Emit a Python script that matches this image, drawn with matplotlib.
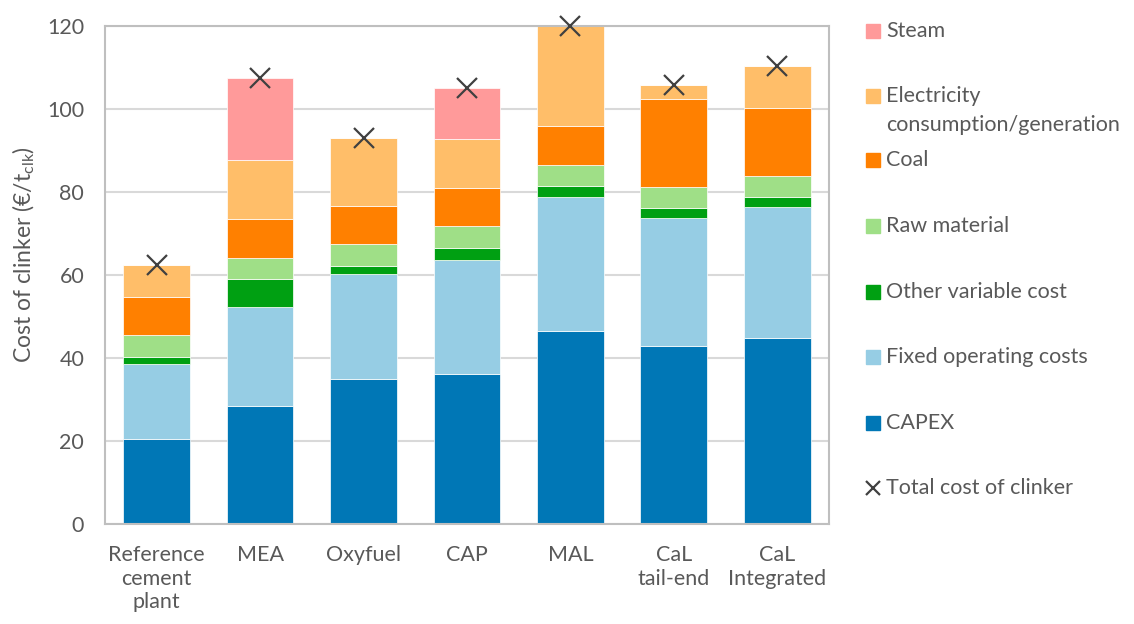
import numpy as np
import matplotlib
matplotlib.use("Agg")
from matplotlib import pyplot as plt
from matplotlib.patches import Rectangle
from matplotlib.lines import Line2D

plt.rcParams['font.family'] = ['Lato', 'DejaVu Sans']
plt.rcParams['mathtext.default'] = 'regular'

# categorias
categories = ["Reference\ncement\nplant", "MEA", "Oxyfuel", "CAP", "MAL",
              "CaL\ntail-end", "CaL\nIntegrated"]

# componentes de custo (EUR/t clk)
capex = [20.5, 28.6, 34.9, 36.3, 46.6, 43.0, 44.8]
fixed_om = [18.2, 23.6, 25.3, 27.3, 32.2, 30.6, 31.6]
other_var = [1.7, 6.8, 2.0, 3.0, 2.7, 2.5, 2.4]
raw_material = [5.1, 5.1, 5.2, 5.2, 5.0, 5.1, 5.1]
coal = [9.3, 9.3, 9.3, 9.2, 9.3, 21.2, 16.2]
electricity = [7.7, 14.3, 16.3, 11.8, 24.2, 3.4, 10.2]
steam = [0.0, 19.6, 0.0, 12.1, 0.0, 0.0, 0.0]
total = [62.5, 107.3, 93.0, 104.9, 120.0, 105.8, 110.3]

series_names = ["CAPEX", "Fixed operating costs", "Other variable cost",
                "Raw material", "Coal", "Electricity\nconsumption/generation",
                "Steam"]
series_vals = [capex, fixed_om, other_var, raw_material, coal, electricity, steam]
colors = ['#0077b6', '#96cde4', '#00a012', '#9fdf87', '#ff8000', '#ffbe69',
          '#ff9a9a']

txt_color = '#595959'
fs = 15.5

fig = plt.figure(figsize=(11.34, 6.24), dpi=100)
ax = fig.add_axes([0.0926, 0.1595, 0.6384, 0.7995])

x = np.arange(len(categories))
bottom = np.zeros(len(categories))
for vals, c in zip(series_vals, colors):
    vals = np.array(vals)
    ax.bar(x, vals, 0.645, bottom=bottom, color=c, edgecolor='white',
           linewidth=0.5, zorder=2)
    bottom += vals

ax.plot(x, total, linestyle='none', marker='x', markersize=15,
        markeredgewidth=1.6, color='#404040', zorder=3, clip_on=False)

ax.set_xlim(-0.5, 6.5)
ax.set_ylim(0, 120)
ax.set_yticks(np.arange(0, 121, 20))
ax.grid(axis='y', color='#d9d9d9', linewidth=1.5, zorder=0)
ax.set_axisbelow(True)
for s in ax.spines.values():
    s.set_color('#bfbfbf')
    s.set_linewidth(1.5)
ax.set_xticks(x)
ax.set_xticklabels(categories, linespacing=1.2)
ax.tick_params(axis='both', length=0, labelsize=fs, labelcolor=txt_color)
ax.tick_params(axis='y', pad=15)
ax.tick_params(axis='x', pad=15)
ax.set_ylabel(r'Cost of clinker (€/t$_{clk}$)', fontsize=16.5, color=txt_color)
ax.yaxis.set_label_coords(-0.094, 0.54)

# legenda manual
W, H = 1134.0, 624.0
leg_rows = [("Steam", colors[6], 31), ("Electricity", colors[5], 96),
            ("Coal", colors[4], 160), ("Raw material", colors[3], 226),
            ("Other variable cost", colors[2], 292), ("Fixed operating costs", colors[1], 357),
            ("CAPEX", colors[0], 423)]
for lab, c, yc in leg_rows:
    fig.add_artist(Rectangle((866 / W, 1 - (yc + 7) / H), 14 / W, 14 / H,
                             transform=fig.transFigure, color=c))
    fig.text(886 / W, 1 - yc / H, lab, fontsize=fs, color=txt_color,
             va='center')
fig.text(886 / W, 1 - 125 / H, "consumption/generation", fontsize=fs,
         color=txt_color, va='center')

fig.add_artist(Line2D([873 / W], [1 - 488 / H], marker='x', markersize=10,
                      markeredgewidth=1.6, color='#404040',
                      transform=fig.transFigure))
fig.text(886 / W, 1 - 488 / H, "Total cost of clinker", fontsize=fs,
         color=txt_color, va='center')

fig.savefig("out.png", dpi=100)
